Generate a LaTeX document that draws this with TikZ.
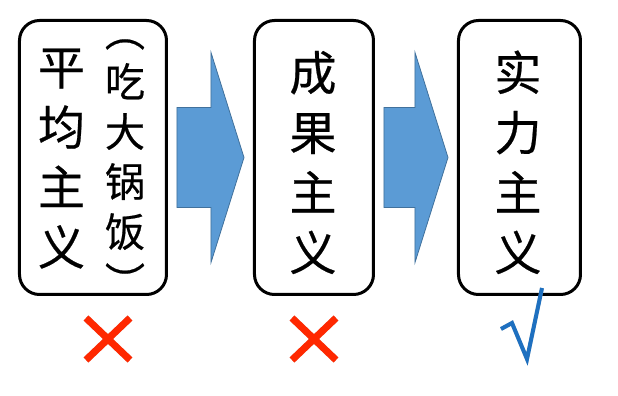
\documentclass[tikz,border=0pt]{standalone}
\usepackage{fontspec}
\newfontfamily\cjk{Noto Sans CJK SC}[FakeBold=0.5]
\usepackage{xcolor}
\usetikzlibrary{positioning,calc}

\definecolor{arrowblue}{RGB}{91,155,213}
\definecolor{arrowedge}{RGB}{65,113,156}
\definecolor{crossred}{RGB}{255,40,0}
\definecolor{tickblue}{RGB}{30,112,192}

\newcommand{\cjkstrut}{\rule[-0.12em]{0pt}{1em}}

% block arrow between two boxes
\newcommand{\bigarrow}[2]{%
	\filldraw[flow] ($(#1.east)+(9,-50)$) -- ($(#2.west)+(-42,-50)$)
	-- ($(#2.west)+(-42,-105)$) -- ($(#2.west)+(-9,0)$)
	-- ($(#2.west)+(-42,105)$) -- ($(#2.west)+(-42,50)$)
	-- ($(#1.east)+(9,50)$) -- cycle;}

\begin{document}
\begin{tikzpicture}[
		x=0.5pt, y=-0.5pt,
		box/.style={
			draw,
			line width=1.5pt,
			rounded corners=10pt,
			minimum height=137pt,
			inner sep=0pt
		},
		bigtext/.style={
			align=center,
			inner sep=0pt,
			font=\cjk\fontsize{23.5}{30}\selectfont
		},
		smalltext/.style={
			align=center,
			inner sep=0pt,
			font=\cjk\fontsize{20}{25}\selectfont
		},
		flow/.style={
			fill=arrowblue,
			draw=arrowedge,
			line width=0.4pt
		},
		cross/.style={
			crossred,
			line width=3.5pt
		},
		tick/.style={
			tickblue,
			line width=2pt,
			line join=miter
		},
		shade/.style={
			black!30,
			opacity=0.6,
			xshift=1pt,
			yshift=-1pt
		}
		]
		
		\useasboundingbox (0,0) rectangle (618,396);
		
		% Boxes
		\node[box, minimum width=73.5pt] (pingjun) at (93,157.5) {};
		\node[box, minimum width=59.5pt, right=42.5pt of pingjun] (chengguo) {};
		\node[box, minimum width=61pt, right=41pt of chengguo] (shili) {};
		
		% Texts
		\node[bigtext] (pingjuntext) at ($(pingjun.center)+(-31.5,-0.5)$)
		{平\cjkstrut\\均\cjkstrut\\主\cjkstrut\\义\cjkstrut};
		\node[smalltext] (daguofan) at ($(pingjun.center)+(32,-1)$)
		{︵\cjkstrut\\吃\cjkstrut\\大\cjkstrut\\锅\cjkstrut\\饭\cjkstrut\\︶\cjkstrut};
		\node[bigtext] (chengguotext) at ($(chengguo.center)+(-1,5)$)
		{成\cjkstrut\\果\cjkstrut\\主\cjkstrut\\义\cjkstrut};
		\node[bigtext] (shilitext) at ($(shili.center)+(-1.5,5)$)
		{实\cjkstrut\\力\cjkstrut\\主\cjkstrut\\义\cjkstrut};
		
		% Arrows
		\bigarrow{pingjun}{chengguo}
		\bigarrow{chengguo}{shili}
		
		% Marks
		\coordinate (wrongA) at ($(pingjun.south)+(15,43)$);
		\coordinate (wrongB) at ($(chengguo.south)+(0,43)$);
		\coordinate (right) at ($(shili.south)+(-18.5,33)$);
		
		\foreach \m in {wrongA, wrongB} {
			\draw[cross, shade] ($(\m)+(-22,-21)$) -- ($(\m)+(22,21)$);
			\draw[cross, shade] ($(\m)+(22,-21)$) -- ($(\m)+(-22,21)$);
			\draw[cross] ($(\m)+(-22,-21)$) -- ($(\m)+(22,21)$);
			\draw[cross] ($(\m)+(22,-21)$) -- ($(\m)+(-22,21)$);
		}
		
		\draw[tick, shade] (right) -- ++(11,-6) -- ++(15,36) -- ++(15,-71);
		\draw[tick] (right) -- ++(11,-6) -- ++(15,36) -- ++(15,-71);
		
	\end{tikzpicture}
\end{document}
